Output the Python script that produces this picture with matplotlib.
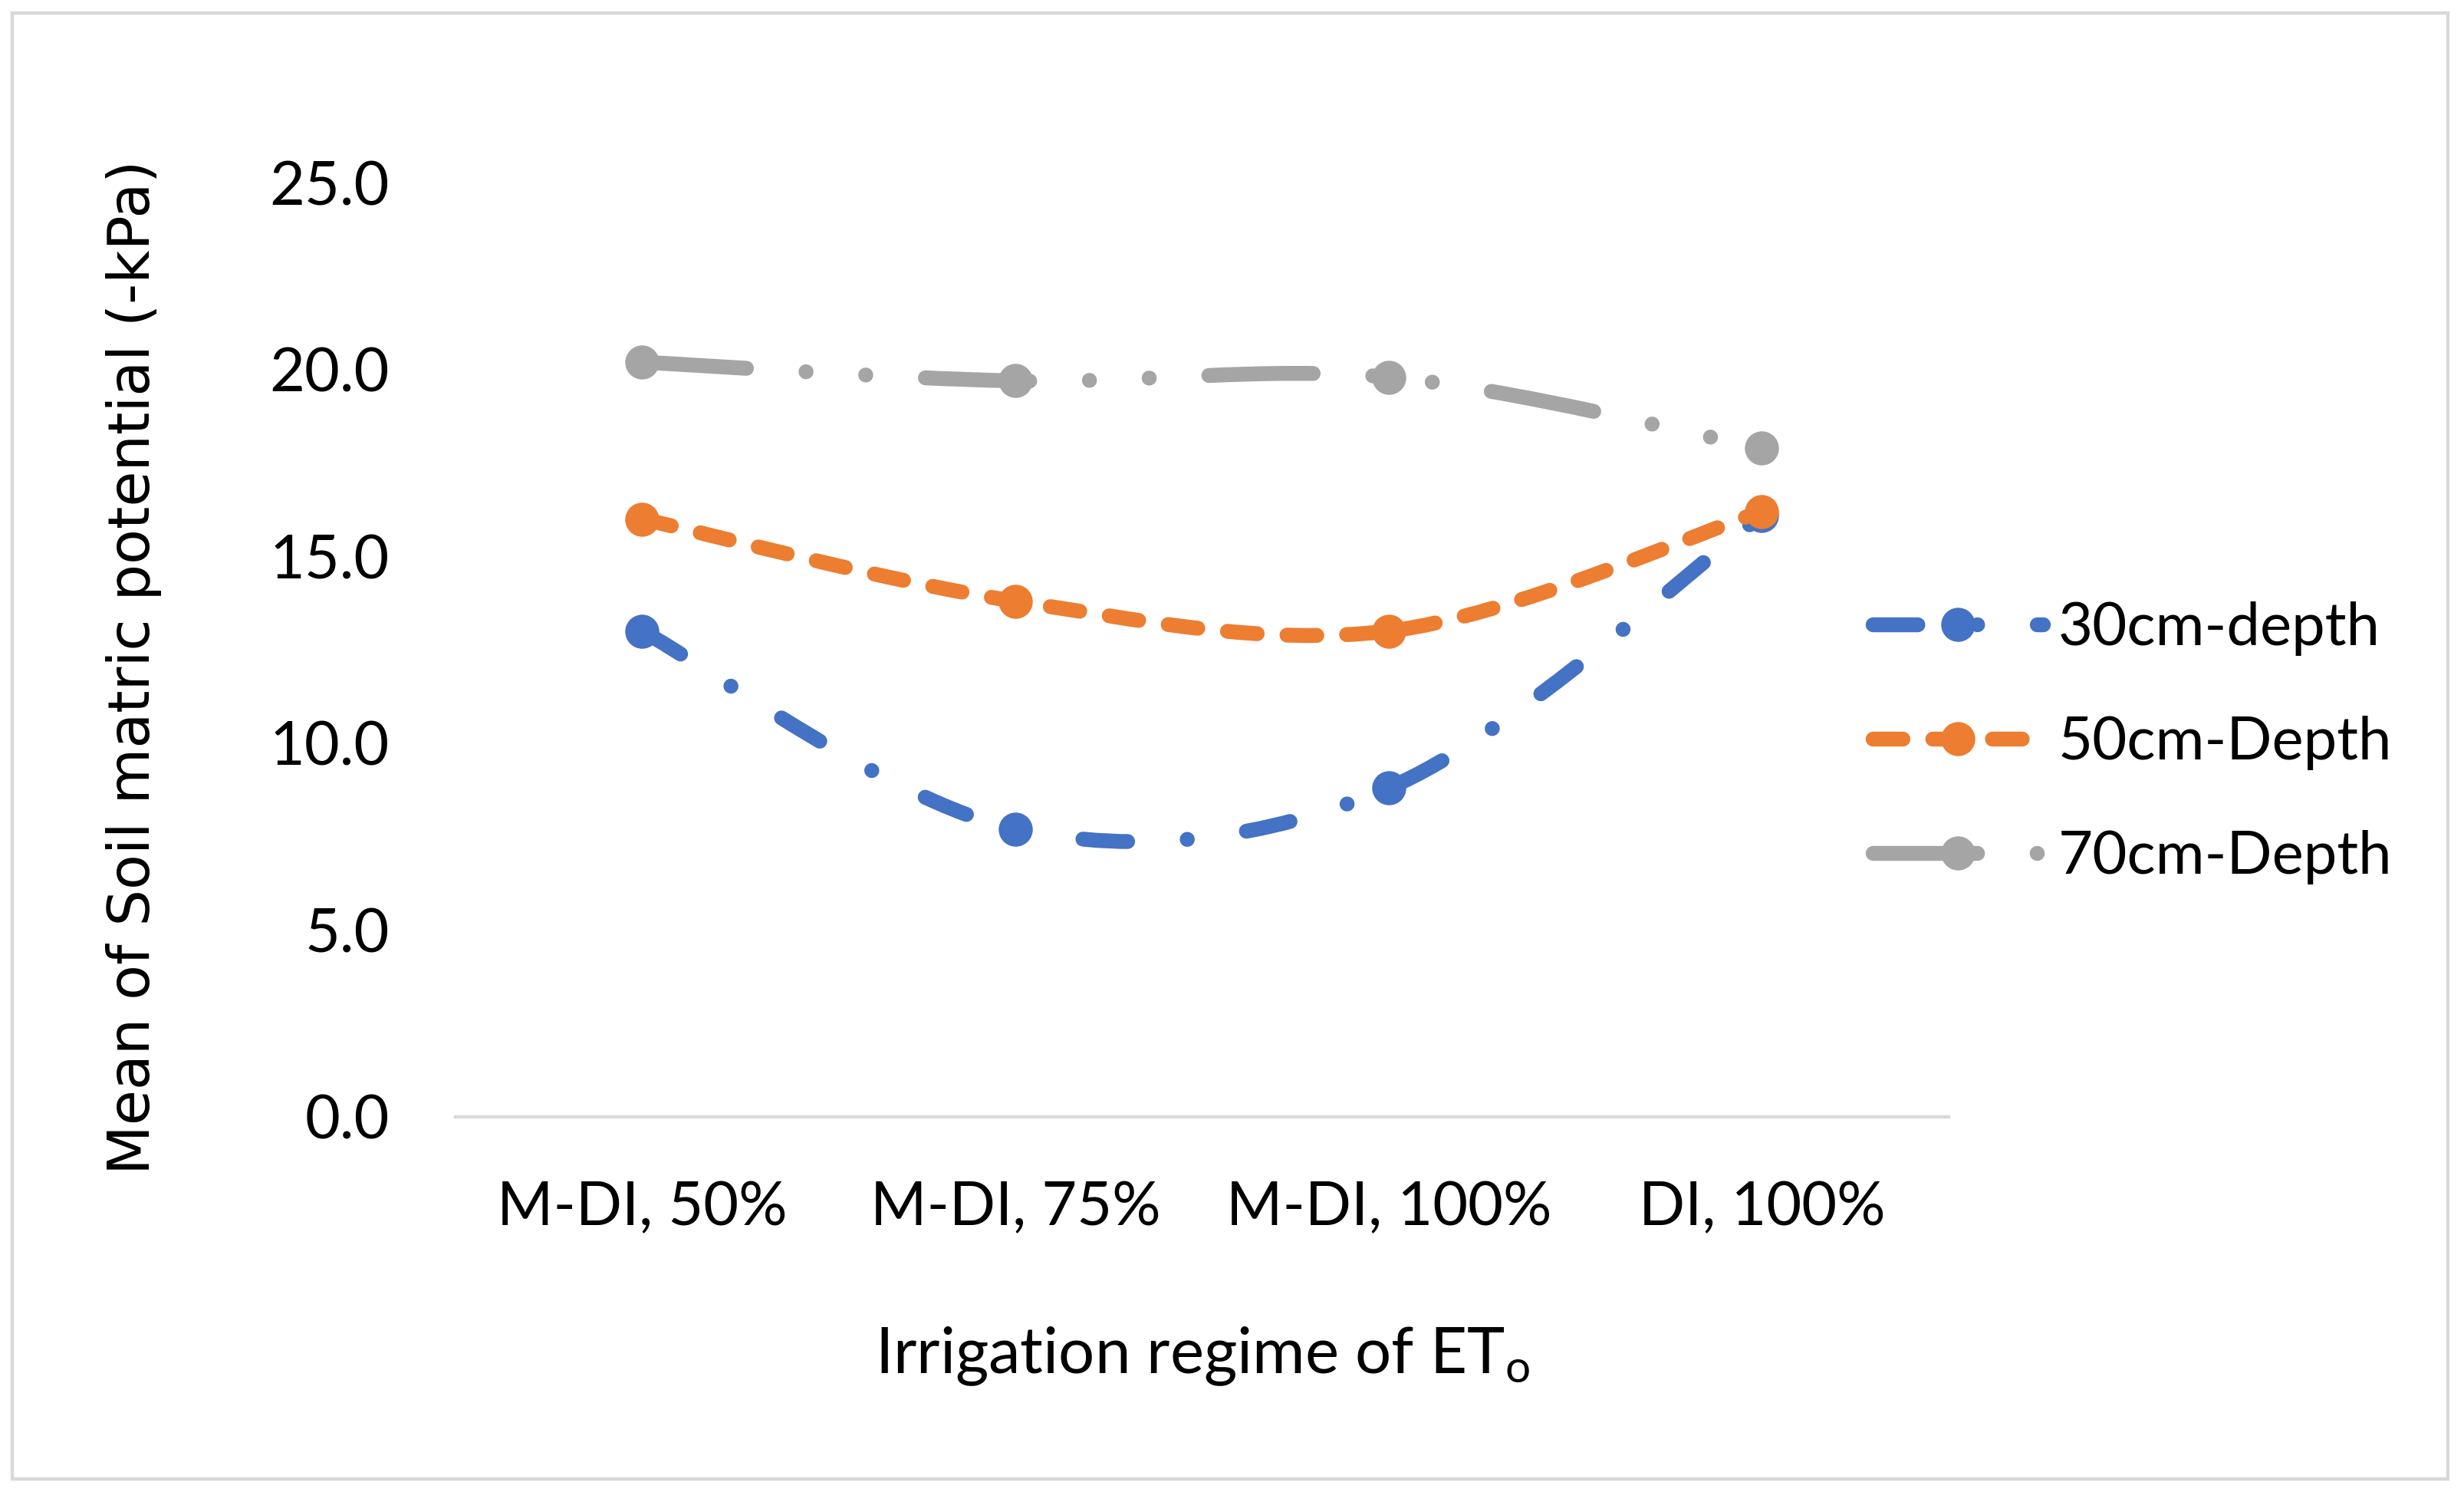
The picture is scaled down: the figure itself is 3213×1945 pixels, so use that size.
#!/usr/bin/env python3
"""Soil matric potential by irrigation regime, Excel-style smoothed lines."""

import matplotlib

matplotlib.use("Agg")
import matplotlib.pyplot as plt
import numpy as np
from matplotlib.lines import Line2D
from matplotlib.patches import PathPatch, Rectangle
from matplotlib.path import Path

categories = ["M-DI, 50%", "M-DI, 75%", "M-DI, 100%", "DI, 100%"]
depth_30 = [13.0, 7.7, 8.8, 16.1]
depth_50 = [16.0, 13.8, 13.0, 16.2]
depth_70 = [20.2, 19.7, 19.8, 17.9]
series_names = ["30cm-depth", "50cm-Depth", "70cm-Depth"]
y_ticks = [0, 5, 10, 15, 20, 25]

BLUE = "#4472C4"
ORANGE = "#ED7D31"
GRAY = "#A5A5A5"
AXIS_GRAY = "#D9D9D9"

LW = 7.0      # pt
MS = 16.0     # pt
# dash patterns in units of line width (round caps add one lw to each dash)
STYLES = [
    (0, (3.0, 4.0, 0.01, 4.0)),                  # dash dot
    (0, (2.0, 2.0)),                             # short dash
    (0, (7.0, 4.0, 0.01, 4.0, 0.01, 4.0)),       # long dash dot dot
]


def smooth_path(xs, ys):
    """Catmull-Rom style Bezier through the points, like Excel's smoothed line."""
    pts = np.column_stack([xs, ys]).astype(float)
    n = len(pts)
    verts = [pts[0]]
    codes = [Path.MOVETO]
    for i in range(n - 1):
        p0 = pts[max(i - 1, 0)]
        p1 = pts[i]
        p2 = pts[i + 1]
        p3 = pts[min(i + 2, n - 1)]
        verts += [p1 + (p2 - p0) / 6.0, p2 - (p3 - p1) / 6.0, p2]
        codes += [Path.CURVE4] * 3
    return Path(verts, codes)


def main() -> None:
    plt.rcParams["font.family"] = ["Lato", "DejaVu Sans"]
    plt.rcParams["mathtext.fontset"] = "custom"
    plt.rcParams["mathtext.rm"] = "Lato"
    plt.rcParams["mathtext.it"] = "Lato:italic"

    fig = plt.figure(figsize=(16.065, 9.725), dpi=200)
    ax = fig.add_axes([0.1849, 0.2516, 0.6059, 0.6258])

    xs = np.arange(len(categories)) + 0.5
    data = [depth_30, depth_50, depth_70]
    colors = [BLUE, ORANGE, GRAY]

    handles = []
    for k, (vals, color, ls, name) in enumerate(zip(data, colors, STYLES, series_names)):
        patch = PathPatch(
            smooth_path(xs, vals),
            facecolor="none",
            edgecolor=color,
            linewidth=LW,
            linestyle=ls,
            capstyle="round",
            joinstyle="round",
            zorder=3 + 2 * k,
        )
        ax.add_patch(patch)
        ax.plot(xs, vals, linestyle="none", marker="o", markersize=MS,
                markerfacecolor=color, markeredgewidth=0, zorder=4 + 2 * k)
        handles.append(
            Line2D([], [], color=color, linewidth=LW, linestyle=ls,
                   dash_capstyle="round", marker="o", markersize=MS,
                   markerfacecolor=color, markeredgewidth=0, label=name)
        )

    ax.set_xlim(0, len(categories))
    ax.set_ylim(0, 25)
    ax.set_xticks(xs)
    ax.set_xticklabels(categories)
    ax.set_yticks(y_ticks)
    ax.set_yticklabels([f"{v:.1f}" for v in y_ticks])
    ax.tick_params(axis="both", length=0, labelsize=28.5, colors="black")
    ax.tick_params(axis="y", pad=31)
    ax.tick_params(axis="x", pad=30)
    for side in ("left", "right", "top"):
        ax.spines[side].set_visible(False)
    ax.spines["bottom"].set_color(AXIS_GRAY)
    ax.spines["bottom"].set_linewidth(1.6)
    ax.spines["bottom"].set_zorder(1)

    fig.text(0.0542, 0.553, "Mean of Soil matric potential (-kPa)",
             rotation=90, ha="center", va="center", fontsize=27,
             family="DejaVu Sans")
    fig.text(0.488, 0.0909, r"Irrigation regime of ET$_{\mathrm{o}}$",
             ha="center", va="center", fontsize=30)

    fig.legend(
        handles=handles,
        loc="center left",
        bbox_to_anchor=(0.760, 0.502),
        frameon=False,
        fontsize=28,
        handlelength=2.85,
        handletextpad=0.26,
        labelspacing=1.0,
        borderpad=0,
        borderaxespad=0,
        numpoints=1,
    )

    fig.add_artist(Rectangle((0.0051, 0.0085), 0.9885, 0.983,
                             transform=fig.transFigure, facecolor="none",
                             edgecolor=AXIS_GRAY, linewidth=1.6))

    fig.savefig("out.png", dpi=200)
    plt.close(fig)


if __name__ == "__main__":
    main()
